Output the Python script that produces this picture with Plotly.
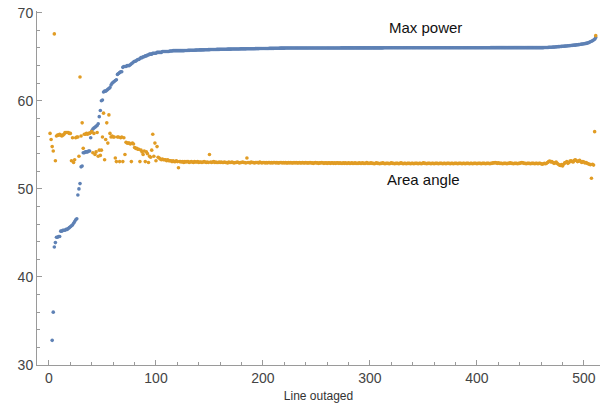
import plotly.graph_objects as go

# Max power (sorted), index 1..511 ; first two are below the plotted range
max_power = [
    None, None, 32.8, 36.0, 43.4, 43.9, 44.5, 44.5, 44.6, 44.6,
    45.2, 45.2, 45.3, 45.3, 45.3, 45.4, 45.4, 45.5, 45.6, 45.7,
    45.8, 45.9, 46.1, 46.3, 46.5, 46.6, 49.3, 50.0, 50.6, 52.5,
    52.6, 54.1, 54.1, 54.2, 54.2, 54.2, 54.3, 54.3, 55.8, 56.6,
    56.8, 56.9, 57.0, 57.1, 57.2, 57.4, 58.2, 58.9, 60.0, 60.1,
    61.0, 61.1, 61.1, 61.2, 61.3, 61.4, 61.5, 61.8, 62.0, 62.1,
    62.2, 62.3, 62.4, 63.0, 63.1, 63.2, 63.3, 63.3, 63.8, 63.9,
    63.9, 63.9, 64.0, 64.0, 64.0, 64.1, 64.2, 64.3, 64.4, 64.5,
    64.5, 64.6, 64.7, 64.7, 64.8, 64.9, 64.9, 65.0, 65.0, 65.1,
    65.1, 65.2, 65.2, 65.3, 65.3, 65.3, 65.4, 65.4, 65.4, 65.4,
    65.5, 65.5, 65.5, 65.5, 65.5, 65.6, 65.6, 65.6, 65.6, 65.6,
    65.6, 65.6, 65.65, 65.65, 65.65, 65.7, 65.7, 65.7, 65.7, 65.7,
    65.7, 65.7,
    65.7, 65.7, 65.7, 65.7, 65.72, 65.72, 65.72, 65.73, 65.73, 65.74, 65.74, 65.75, 65.75, 65.75, 65.76, 65.76, 65.77, 65.77, 65.78, 65.78,
    65.78, 65.79, 65.79, 65.8, 65.8, 65.8, 65.81, 65.81, 65.82, 65.82, 65.82, 65.83, 65.83, 65.83, 65.84, 65.84, 65.84, 65.85, 65.85, 65.85,
    65.86, 65.86, 65.86, 65.86, 65.87, 65.87, 65.87, 65.87, 65.88, 65.88, 65.88, 65.88, 65.89, 65.89, 65.89, 65.89, 65.9, 65.9, 65.9, 65.9,
    65.9, 65.9, 65.91, 65.91, 65.91, 65.91, 65.92, 65.92, 65.92, 65.92, 65.93, 65.93, 65.93, 65.93, 65.94, 65.94, 65.94, 65.94, 65.95, 65.95,
    65.95, 65.95, 65.95, 65.96, 65.96, 65.96, 65.96, 65.96, 65.97, 65.97, 65.97, 65.97, 65.97, 65.98, 65.98, 65.98, 65.98, 65.98, 65.99, 65.99,
    65.99, 65.99, 65.99, 66.0, 66.0, 66.0, 66.0, 66.0, 66.0, 66.0, 66.0, 66.0, 66.0, 66.0, 66.0, 66.0, 66.0, 66.0, 66.0, 66.0,
    66.0, 66.0, 66.0, 66.0, 66.0, 66.0, 66.0, 66.0, 66.0, 66.0, 66.0, 66.0, 66.0, 66.0, 66.0, 66.0, 66.0, 66.0, 66.0, 66.0,
    66.0, 66.0, 66.0, 66.0, 66.0, 66.0, 66.0, 66.0, 66.0, 66.0, 66.01, 66.01, 66.01, 66.01, 66.01, 66.01, 66.01, 66.01, 66.01, 66.01,
    66.01, 66.01, 66.01, 66.01, 66.01, 66.01, 66.01, 66.01, 66.01, 66.01, 66.01, 66.01, 66.01, 66.01, 66.01, 66.01, 66.01, 66.01, 66.01, 66.01,
    66.01, 66.01, 66.01, 66.01, 66.01, 66.01, 66.01, 66.01, 66.01, 66.01, 66.02, 66.02, 66.02, 66.02, 66.02, 66.02, 66.02, 66.02, 66.02, 66.02,
    66.02, 66.02, 66.02, 66.02, 66.02, 66.02, 66.02, 66.02, 66.02, 66.02, 66.02, 66.02, 66.02, 66.02, 66.02, 66.02, 66.02, 66.02, 66.02, 66.02,
    66.02, 66.02, 66.02, 66.02, 66.02, 66.02, 66.02, 66.02, 66.02, 66.02, 66.02, 66.02, 66.02, 66.02, 66.02, 66.02, 66.02, 66.02, 66.02, 66.02,
    66.03, 66.03, 66.03, 66.03, 66.03, 66.03, 66.03, 66.03, 66.03, 66.03, 66.03, 66.03, 66.03, 66.03, 66.03, 66.03, 66.03, 66.03, 66.03, 66.03,
    66.03, 66.03, 66.03, 66.03, 66.03, 66.03, 66.03, 66.03, 66.03, 66.03, 66.03, 66.03, 66.03, 66.03, 66.03, 66.03, 66.03, 66.03, 66.03, 66.03,
    66.03, 66.03, 66.03, 66.03, 66.03, 66.03, 66.03, 66.03, 66.03, 66.03, 66.04, 66.04, 66.04, 66.04, 66.04, 66.04, 66.04, 66.04, 66.04, 66.04,
    66.04, 66.04, 66.04, 66.04, 66.04, 66.04, 66.04, 66.04, 66.04, 66.04, 66.04, 66.04, 66.04, 66.04, 66.04, 66.04, 66.04, 66.04, 66.04, 66.04,
    66.04, 66.04, 66.04, 66.04, 66.04, 66.04, 66.04, 66.04, 66.04, 66.04, 66.04, 66.04, 66.04, 66.04, 66.04, 66.04, 66.04, 66.04, 66.04, 66.04,
    66.05, 66.05, 66.06, 66.06, 66.07, 66.08, 66.08, 66.09, 66.1, 66.1, 66.12, 66.13, 66.14, 66.15, 66.16, 66.17, 66.18, 66.2, 66.2, 66.21,
    66.22, 66.23, 66.25, 66.26, 66.27, 66.28, 66.3, 66.31, 66.32, 66.33, 66.35, 66.36, 66.38, 66.4, 66.42, 66.44, 66.46, 66.48, 66.5, 66.52,
    66.55, 66.6, 66.64, 66.7, 66.76, 66.82, 66.9, 67.0, 67.2,
]

# Area angle, same line index order
area_angle = [
    56.3, 55.6, 54.8, 54.3, 67.6, 53.2, 56.0, 56.1, 56.1, 56.2,
    56.1, 56.0, 56.1, 56.2, 56.4, 56.4, 56.4, 56.4, 56.3, 56.3,
    53.2, 55.8, 53.0, 53.3, 55.8, 55.9, 55.9, 53.7, 62.7, 56.0,
    57.5, 54.6, 56.2, 56.2, 56.3, 56.2, 56.3, 56.3, 56.4, 56.5,
    54.1, 56.3, 53.9, 54.2, 56.4, 53.7, 54.4, 53.8, 54.4, 55.9,
    58.6, 53.3, 55.6, 57.5, 55.2, 58.4, 56.3, 55.9, 56.0, 55.9,
    55.9, 53.5, 53.1, 55.9, 55.9, 53.1, 55.8, 55.9, 53.1, 55.8,
    53.9, 55.3, 55.2, 55.2, 55.2, 55.1, 53.1, 55.2, 55.1, 54.7,
    54.6, 54.6, 54.5, 54.5, 53.1, 54.4, 54.2, 53.9, 54.3, 53.1,
    54.2, 54.0, 53.0, 53.7, 53.6, 54.4, 56.2, 53.7, 55.2, 53.2,
    54.8, 53.6, 53.5, 53.4, 53.3, 53.4, 53.3, 53.3, 53.3, 53.2,
    53.3, 53.2, 53.2, 53.2, 53.1, 53.2, 53.1, 53.1, 53.2, 53.1,
    52.4, 53.1,
    53.1, 53.05, 53.1, 53.0, 53.1, 53.05, 53.1, 53.1, 53.0, 53.05, 53.1, 53.05, 53.0, 53.1, 53.05, 53.05, 53.1, 53.0, 53.05, 53.05,
    53.0, 53.05, 53.1, 53.05, 53.0, 53.05, 53.0, 53.9, 53.05, 53.0, 53.05, 53.1, 53.0, 53.05, 53.0, 53.0, 53.05, 53.0, 53.05, 53.0,
    53.0, 53.05, 53.0, 53.0, 52.95, 53.05, 53.0, 53.0, 53.05, 53.0, 52.95, 53.0, 53.0, 53.05, 53.0, 52.95, 53.0, 53.0, 53.05, 53.0,
    53.0, 52.95, 53.5, 53.0, 53.0, 52.95, 53.05, 53.0, 53.0, 52.95, 53.0, 53.0, 53.0, 52.95, 53.05, 53.0, 52.95, 53.0, 53.0, 52.95,
    53.0, 52.95, 53.0, 53.0, 52.95, 53.0, 52.95, 53.0, 53.0, 52.95, 53.0, 52.95, 52.95, 53.0, 53.0, 52.95, 53.0, 52.95, 53.0, 52.95,
    52.95, 53.0, 52.95, 53.0, 52.95, 52.95, 53.0, 52.95, 53.0, 52.95, 52.95, 53.0, 52.95, 52.95, 53.0, 52.95, 52.95, 53.0, 52.95, 52.95,
    52.95, 53.0, 52.95, 52.95, 52.9, 52.95, 53.0, 52.95, 52.95, 52.9, 52.95, 52.95, 53.0, 52.95, 52.9, 52.95, 52.95, 52.9, 52.95, 52.95,
    52.9, 52.95, 52.95, 52.9, 52.95, 52.9, 52.95, 52.95, 52.9, 52.95, 52.9, 52.9, 52.95, 52.9, 52.95, 52.9, 52.9, 52.95, 52.9, 52.9,
    52.95, 52.9, 52.9, 52.95, 52.9, 52.9, 52.9, 52.95, 52.9, 52.9, 52.95, 52.9, 52.9, 52.9, 53.0, 52.9, 52.9, 52.9, 52.95, 52.9,
    52.9, 52.85, 52.9, 52.95, 52.9, 52.9, 52.85, 52.9, 52.9, 52.95, 52.9, 52.85, 52.9, 52.9, 52.9, 52.85, 52.9, 52.95, 52.9, 52.9,
    52.85, 52.9, 52.9, 52.9, 52.85, 52.9, 52.95, 52.9, 52.85, 52.9, 52.9, 52.85, 52.9, 52.9, 52.9, 52.85, 52.9, 52.9, 52.85, 52.9,
    52.9, 52.9, 52.85, 52.9, 52.9, 52.85, 52.9, 52.95, 52.9, 52.9, 52.85, 52.9, 52.9, 52.9, 52.85, 52.9, 52.9, 52.85, 52.9, 52.9,
    52.9, 52.85, 52.9, 52.9, 52.9, 52.85, 52.9, 52.9, 52.85, 52.9, 52.9, 52.9, 52.85, 52.9, 52.9, 52.85, 52.9, 52.9, 52.9, 52.85,
    52.9, 52.9, 52.9, 52.85, 52.9, 52.9, 52.85, 52.9, 52.9, 52.9, 52.85, 52.9, 52.9, 52.85, 52.9, 52.9, 52.9, 52.85, 52.9, 52.9,
    52.9, 52.85, 52.9, 52.9, 52.9, 52.85, 52.9, 52.9, 52.9, 52.85, 52.9, 52.9, 52.95, 52.95, 53.0, 52.95, 52.9, 52.95, 52.9, 52.9,
    52.9, 52.85, 52.9, 52.9, 52.9, 52.85, 52.9, 52.9, 52.95, 52.9, 52.9, 52.85, 52.9, 52.9, 52.9, 52.85, 52.9, 52.9, 52.95, 53.0,
    52.95, 52.9, 52.9, 52.85, 52.9, 52.9, 52.9, 52.85, 52.9, 52.9, 52.9, 52.85, 52.9, 52.9, 52.85, 52.9, 52.9, 52.85, 52.8, 52.85,
    52.9, 52.85, 52.9, 53.0, 53.1, 53.15, 53.05, 53.1, 53.0, 52.9, 52.95, 53.05, 52.9, 52.8, 52.7, 52.65, 52.75, 52.6, 52.8, 52.95,
    53.0, 53.1, 52.9, 53.0, 53.15, 53.2, 53.1, 53.05, 53.25, 53.3, 53.2, 53.1, 53.15, 53.25, 53.1, 53.0, 53.1, 53.05, 52.95, 53.0,
    52.9, 52.85, 52.8, 52.75, 51.2, 52.8, 52.7, 56.5, 67.4,
]

x_power = list(range(1, len(max_power) + 1))
x_angle = list(range(1, len(area_angle) + 1))

BLUE = "#5E81B5"
ORANGE = "#E19C24"
AX = "#9a9a9a"
FONT = "Liberation Sans, Arial, sans-serif"

fig = go.Figure()
fig.add_trace(go.Scatter(x=x_power, y=max_power, mode="markers", name="Max power",
                         marker=dict(color=BLUE, size=3.6, line=dict(width=0)), cliponaxis=True))
fig.add_trace(go.Scatter(x=x_angle, y=area_angle, mode="markers", name="Area angle",
                         marker=dict(color=ORANGE, size=3.6, line=dict(width=0)), cliponaxis=True))

fig.add_annotation(x=352, y=68.3, text="Max power", showarrow=False,
                   font=dict(family=FONT, size=15, color="#111"))
fig.add_annotation(x=350, y=51.1, text="Area angle", showarrow=False,
                   font=dict(family=FONT, size=15, color="#111"))

fig.update_layout(
    width=600, height=411,
    margin=dict(l=37, r=0, t=11, b=46, autoexpand=False),
    paper_bgcolor="white", plot_bgcolor="white",
    showlegend=False,
    font=dict(family=FONT, size=14, color="#444"),
)
fig.update_xaxes(
    range=[-11.2, 515], showgrid=False, zeroline=False, automargin=False,
    showline=True, linecolor=AX, linewidth=1,
    ticks="inside", ticklen=5, tickcolor=AX, tick0=0, dtick=100,
    minor=dict(ticks="inside", ticklen=3, tickcolor=AX, dtick=20, showgrid=False),
    tickfont=dict(size=14, color="#444"),
    title=dict(text="Line outaged", font=dict(size=12, color="#333"), standoff=6),
)
fig.update_yaxes(
    range=[30, 70.2], showgrid=False, zeroline=False, automargin=False,
    showline=True, linecolor=AX, linewidth=1,
    ticks="inside", ticklen=5, tickcolor=AX, tick0=30, dtick=10,
    minor=dict(ticks="inside", ticklen=3, tickcolor=AX, dtick=2, showgrid=False),
    tickfont=dict(size=14, color="#444"),
)

# remove the default page margin so the 600x411 figure fills the window exactly
fig.write_html("out.html", config={"displayModeBar": False},
               post_script="document.body.style.margin='0';document.body.style.overflow='hidden';")
